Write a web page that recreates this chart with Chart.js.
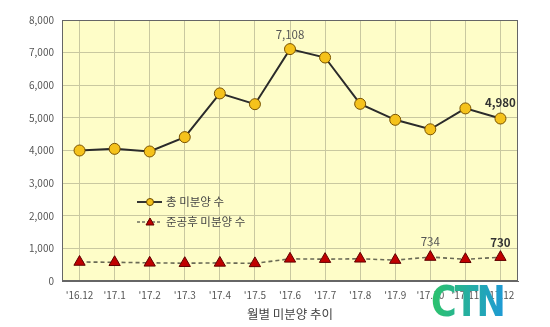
<!DOCTYPE html>
<html><head><meta charset="utf-8">
<script src="https://cdn.jsdelivr.net/npm/chart.js@4"></script>
<style>
html,body{margin:0;padding:0;background:#fff;}
#wrap{position:relative;width:550px;height:327px;}
#logo{position:absolute;left:431px;top:281px;font:bold 35px "DejaVu Sans",sans-serif;letter-spacing:-2px;
transform:scaleY(1.2);transform-origin:top left;
background:linear-gradient(90deg,#2cc36a,#1e9ad6);-webkit-background-clip:text;background-clip:text;color:transparent;line-height:35px;}
</style></head>
<body><div id="wrap"><canvas id="c" width="550" height="327"></canvas><div id="logo">CTN</div></div>
<script>
const categories = ["'16.12","'17.1","'17.2","'17.3","'17.4","'17.5","'17.6","'17.7","'17.8","'17.9","'17.10","'17.11","'17.12"];
const totalUnsold = [4000,4050,3970,4410,5750,5420,7108,6850,5430,4940,4650,5290,4980];
const afterCompletion = [582,574,557,545,555,540,679,670,681,640,734,666,730];
const seriesNames = ["총 미분양 수","준공후 미분양 수"];
const xTitle = "월별 미분양 추이";
const fontFam = "'Noto Sans CJK KR','Noto Sans',sans-serif";

const bgPlugin = {
  id:'bg',
  beforeDraw(chart){
    const {ctx, chartArea:a} = chart;
    ctx.save(); ctx.fillStyle='#fefdc8'; ctx.fillRect(a.left,a.top,a.right-a.left,a.bottom-a.top); ctx.restore();
  },
  afterDatasetsDraw(chart){
    const ctx = chart.ctx;
    const m0 = chart.getDatasetMeta(0).data, m1 = chart.getDatasetMeta(1).data;
    const lab = (pt, txt, bold, dy) => {
      ctx.save(); ctx.font=(bold?'bold ':'')+'11.5px '+fontFam; ctx.fillStyle=bold?'#333':'#555';
      ctx.textAlign='center'; ctx.textBaseline='middle'; ctx.fillText(txt, pt.x, pt.y+dy); ctx.restore();
    };
    lab(m0[6], totalUnsold[6].toLocaleString('en-US'), false, -14);
    lab(m0[12], totalUnsold[12].toLocaleString('en-US'), true, -16);
    lab(m1[10], afterCompletion[10].toLocaleString('en-US'), false, -15);
    lab(m1[12], afterCompletion[12].toLocaleString('en-US'), true, -15);
    const lx0=137, lx1=162, mx=150;
    ctx.save();
    ctx.strokeStyle='#333'; ctx.lineWidth=2; ctx.beginPath(); ctx.moveTo(lx0,202); ctx.lineTo(lx1,202); ctx.stroke();
    ctx.fillStyle='#f5c21b'; ctx.strokeStyle='#6b4a00'; ctx.lineWidth=1; ctx.beginPath(); ctx.arc(mx,202,3.5,0,Math.PI*2); ctx.fill(); ctx.stroke();
    ctx.strokeStyle='#707060'; ctx.lineWidth=1.5; ctx.setLineDash([3,2]); ctx.beginPath(); ctx.moveTo(lx0,222); ctx.lineTo(lx1,222); ctx.stroke(); ctx.setLineDash([]);
    ctx.fillStyle='#c00000'; ctx.strokeStyle='#600000'; ctx.lineWidth=1; ctx.beginPath(); ctx.moveTo(mx,218); ctx.lineTo(mx+4,225); ctx.lineTo(mx-4,225); ctx.closePath(); ctx.fill(); ctx.stroke();
    ctx.font='11.5px '+fontFam; ctx.fillStyle='#444'; ctx.textBaseline='middle'; ctx.textAlign='left';
    ctx.fillText(seriesNames[0],166,202); ctx.fillText(seriesNames[1],166,222);
    ctx.restore();
  }
};

new Chart(document.getElementById('c'), {
  type:'line',
  data:{labels:categories, datasets:[
    {label:seriesNames[0], data:totalUnsold, borderColor:'#2b2b2b', borderWidth:2, pointBackgroundColor:'#f5c21b', pointBorderColor:'#7a5300', pointBorderWidth:1, pointRadius:5.5, tension:0},
    {label:seriesNames[1], data:afterCompletion, borderColor:'#6a6a55', borderWidth:1.6, borderDash:[4,3], pointStyle:'triangle', pointBackgroundColor:'#c00000', pointBorderColor:'#600000', pointBorderWidth:1, pointRadius:6.5, tension:0}
  ]},
  options:{
    responsive:false, animation:false, devicePixelRatio:1,
    layout:{padding:{left:0,right:32,top:20,bottom:0}},
    plugins:{legend:{display:false}, tooltip:{enabled:false}},
    scales:{
      x:{offset:true, grid:{offset:false, color:'#c9c8a0', drawTicks:false},
         border:{color:'#666', width:1},
         ticks:{color:'#555', font:{size:10, family:fontFam}, padding:8, maxRotation:0, autoSkip:false},
         title:{display:true, text:xTitle, color:'#444', font:{size:12.5, family:fontFam}, padding:{top:2,bottom:5}},
         afterFit(s){ s.height = 46; }},
      y:{min:0, max:8000, grid:{color:'#c9c8a0', drawTicks:false}, border:{color:'#666', width:1},
         ticks:{stepSize:1000, color:'#555', font:{size:10, family:fontFam}, padding:8, callback:v=>v.toLocaleString('en-US')},
         afterFit(s){ s.width = 62; }}
    }
  },
  plugins:[bgPlugin, {id:'frame', afterDraw(chart){const {ctx,chartArea:a}=chart; ctx.save(); ctx.strokeStyle='#666'; ctx.lineWidth=1; ctx.strokeRect(a.left+0.5,a.top+0.5,a.right-a.left-1,a.bottom-a.top-1); ctx.restore();}}]
});
</script></body></html>
